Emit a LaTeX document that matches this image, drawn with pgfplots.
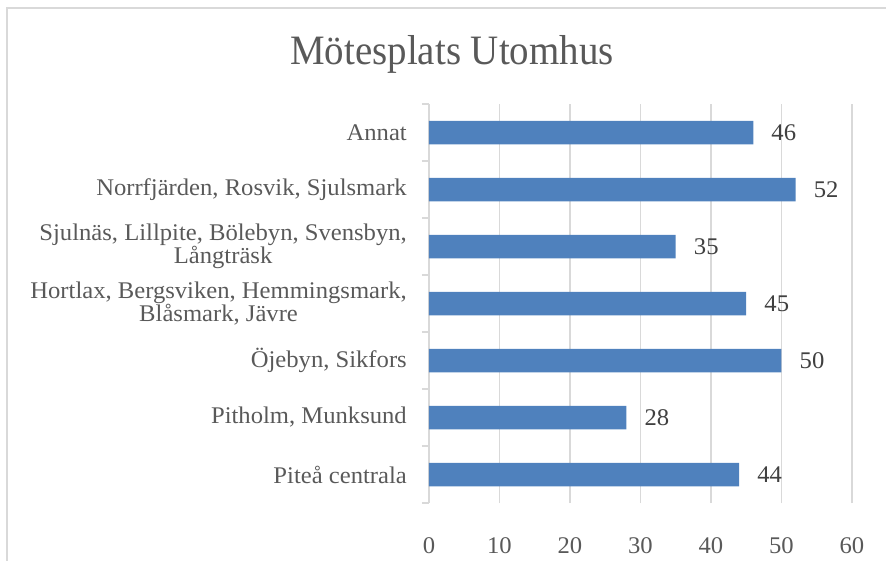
\documentclass[border=0pt]{standalone}
\usepackage{pgfplots}
\pgfplotsset{compat=1.18}
\usepackage{fontspec}
\setmainfont{Liberation Serif}[FakeStretch=1.03]
\newfontfamily\titlefont{Liberation Serif}[FakeStretch=0.93]
\definecolor{barblue}{HTML}{4F81BD}
\definecolor{txtgray}{HTML}{595959}
\definecolor{lblgray}{HTML}{404040}
\definecolor{gridgray}{HTML}{D9D9D9}

\begin{document}
\begin{tikzpicture}
\path[use as bounding box] (-429bp,-58bp) rectangle (457bp,503bp);
% chart frame (only top and left edges fall inside the picture)
\draw[gridgray, line width=1.2bp] (-422bp,-58bp) -- (-422bp,495bp) -- (457bp,495bp);
\node[anchor=base, font=\titlefont\fontsize{42}{42}\selectfont, text=txtgray]
  at (23bp,438bp) {Mötesplats Utomhus};
\begin{axis}[
    at={(0,0)}, anchor=south west,
    scale only axis, width=423bp, height=399bp,
    xbar, bar width=23.5bp, bar shift=0pt,
    xmin=0, xmax=60, ymin=-0.5, ymax=6.5,
    xtick={0,10,...,60},
    ytick={0,...,6},
    yticklabels={Piteå centrala, {Pitholm, Munksund}, {Öjebyn, Sikfors},
      {Hortlax, Bergsviken, Hemmingsmark,\\Blåsmark, Jävre},
      {Sjulnäs, Lillpite, Bölebyn, Svensbyn,\\Långträsk},
      {Norrfjärden, Rosvik, Sjulsmark}, Annat},
    major tick length=0pt,
    extra y ticks={-0.5,0.5,...,6.5},
    extra y tick labels={},
    extra y tick style={major tick length=7bp, tick align=outside,
      ytick pos=left, major tick style={draw=gridgray, line width=1.2bp}},
    axis line style={draw=none},
    xmajorgrids,
    major grid style={draw=gridgray, line width=1.2bp},
    /pgf/number format/assume math mode=true,
    ticklabel style={font=\fontsize{24}{23.5}\selectfont, text=txtgray, inner sep=0pt},
    yticklabel style={align=center, xshift=-22bp},
    xticklabel style={anchor=north, yshift=-34bp},
    point meta=x,
    nodes near coords,
    nodes near coords style={anchor=west, inner sep=0pt, xshift=18bp,
      font=\fontsize{24}{23.5}\selectfont, text=lblgray},
    ]
    \addplot[fill=barblue, draw=none] coordinates {
      (44,0) (28,1) (50,2) (45,3) (35,4) (52,5) (46,6)
    };
\end{axis}
\end{tikzpicture}
\end{document}
